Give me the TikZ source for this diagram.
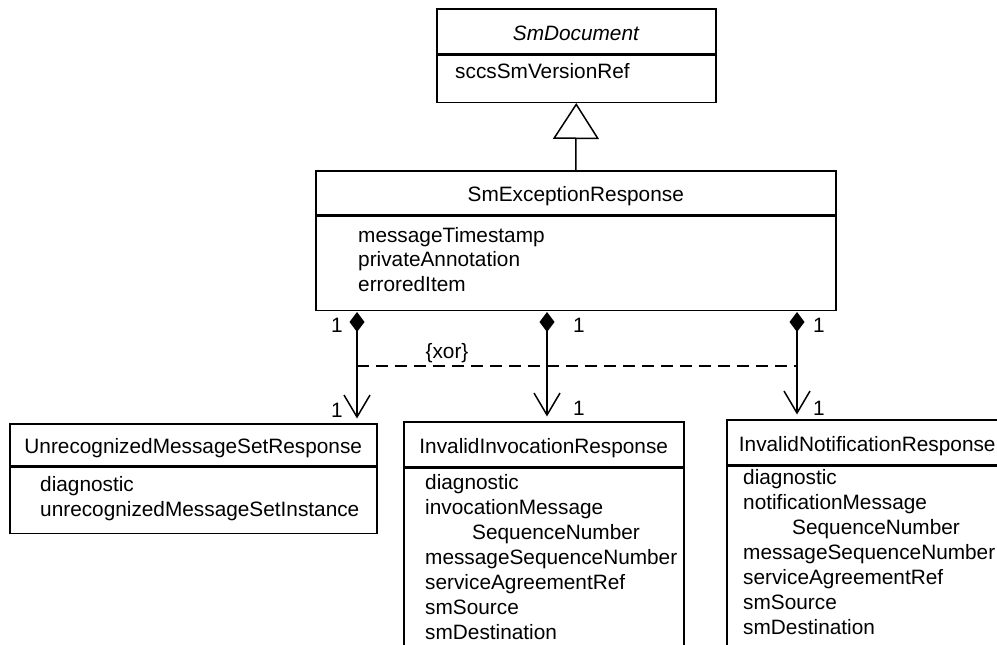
\documentclass[tikz,border=0pt]{standalone}
\usepackage{fontspec}
\setmainfont{Liberation Sans}
\usetikzlibrary{arrows.meta}

\tikzset{
  classbox/.style={draw, line width=1.5pt, inner sep=0pt, anchor=north west,
    text height=20pt, text depth=2pt},
  attr/.style={anchor=base west, inner sep=0pt},
  mult/.style={anchor=base, inner sep=0pt},
  comp/.style={line width=1.5pt, shorten >=4.5pt,
    {Diamond[length=20pt,width=15pt]}-{Straight Barb[length=22pt,width=26pt]}},
  xorline/.style={line width=1.5pt, dash pattern=on 12pt off 7pt},
}

\begin{document}
\begin{tikzpicture}[x=1pt, y=-1pt, font=\fontsize{20.8}{25}\selectfont]
\useasboundingbox (0,0) rectangle (997,645);
\clip (0,0) rectangle (997,645);

% SmDocument
\node[classbox, minimum width=279pt, minimum height=45pt] (doc) at (436,8) {\textit{SmDocument}};
\node[classbox, minimum width=279pt, minimum height=47pt] (docattr) at (doc.south west) {};
\node[attr] (docsccs) at (455,78) {sccsSmVersionRef};

% SmExceptionResponse
\node[classbox, minimum width=520pt, minimum height=44pt] (exc) at (315,170) {SmExceptionResponse};
\node[classbox, minimum width=520pt, minimum height=94pt] (excattr) at (exc.south west) {};
\node[attr] (exc1) at (358,242) {messageTimestamp};
\node[attr] (exc2) at (358,266) {privateAnnotation};
\node[attr] (exc3) at (358,291) {erroredItem};

\draw[line width=1.5pt, -{Triangle[open, length=36pt, width=46pt]}] (exc.north) -- (docattr.south);

% UnrecognizedMessageSetResponse
\node[classbox, minimum width=367pt, minimum height=42pt] (unr) at (9,423) {UnrecognizedMessageSetResponse};
\node[classbox, minimum width=367pt, minimum height=66pt] (unrattr) at (unr.south west) {};
\node[attr] (unr1) at (40,491) {diagnostic};
\node[attr] (unr2) at (40,516) {unrecognizedMessageSetInstance};

% InvalidInvocationResponse
\node[classbox, minimum width=280pt, minimum height=45pt] (inv) at (403,421) {InvalidInvocationResponse};
\node[classbox, minimum width=280pt, minimum height=200pt] (invattr) at (inv.south west) {};
\foreach \t [count=\i] in {diagnostic, invocationMessage, \hspace{47pt}SequenceNumber,
    messageSequenceNumber, serviceAgreementRef, smSource, smDestination}
  \node[attr] (inv\i) at (425,464+25*\i) {\t};

% InvalidNotificationResponse
\node[classbox, minimum width=281pt, minimum height=45pt] (ntf) at (726,419) {InvalidNotificationResponse};
\node[classbox, minimum width=281pt, minimum height=200pt] (ntfattr) at (ntf.south west) {};
\foreach \t [count=\i] in {diagnostic, notificationMessage, \hspace{49pt}SequenceNumber,
    messageSequenceNumber, serviceAgreementRef, smSource, smDestination}
  \node[attr] (ntf\i) at (743,459+25*\i) {\t};

% compositions
\coordinate (d1) at (357,312);
\coordinate (d2) at (547,312);
\coordinate (d3) at (797,312);
\draw[comp] (d1) -- (d1 |- unr.north);
\draw[comp] (d2) -- (d2 |- inv.north);
\draw[comp] (d3) -- (d3 |- ntf.north);

\node[mult] (m1) at (337,332) {1};
\node[mult] (m2) at (579,332) {1};
\node[mult] (m3) at (819,332) {1};
\node[mult] (n1) at (337,417) {1};
\node[mult] (n2) at (579,415) {1};
\node[mult] (n3) at (819,415) {1};

% xor constraint
\coordinate (x1) at (357,366);
\coordinate (x2) at (797,366);
\draw[xorline] (x1) -- (x2);
\node[mult] (xor) at (447,358) {\{xor\}};
\end{tikzpicture}
\end{document}
